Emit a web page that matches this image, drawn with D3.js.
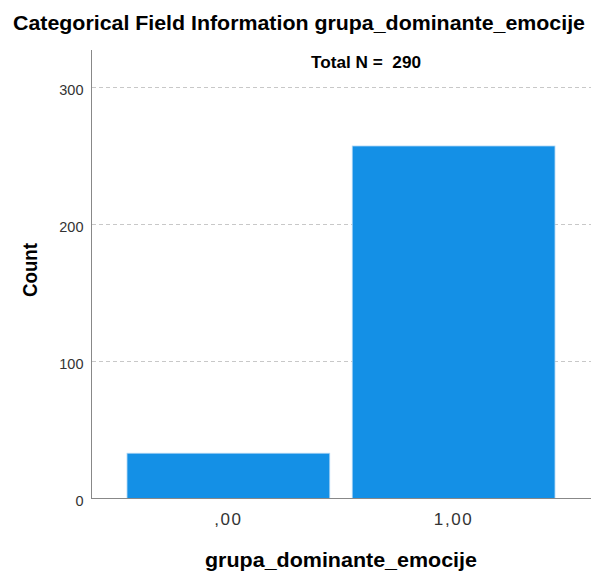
<!DOCTYPE html>
<html><head><meta charset="utf-8">
<script src="https://cdn.jsdelivr.net/npm/d3@7"></script>
<style>body{margin:0;background:#fff;}svg{display:block;font-family:"Liberation Sans",Arial,sans-serif;}</style>
</head><body>
<svg id="c" width="591" height="578"></svg>
<script>
const categories = [",00", "1,00"];
const counts = [33, 257];
const yTicks = [0, 100, 200, 300];
const totalN = 290;

const svg = d3.select("#c");
const x = d3.scaleBand().domain(categories).range([91, 591]).paddingInner(0.1).paddingOuter(0.16);
const y = d3.scaleLinear().domain([0, 327]).range([498.5, 50]);

// gridlines
svg.append("g").selectAll("line").data(yTicks.filter(d => d > 0)).join("line")
  .attr("x1", 92).attr("x2", 591)
  .attr("y1", d => Math.round(y(d)) + 0.5).attr("y2", d => Math.round(y(d)) + 0.5)
  .attr("stroke", "#c8c8c8").attr("stroke-width", 1.2).attr("stroke-dasharray", "4,3");

// bars
svg.append("g").selectAll("rect").data(categories).join("rect")
  .attr("x", d => x(d)).attr("width", x.bandwidth())
  .attr("y", (d, i) => y(counts[i])).attr("height", (d, i) => y(0) - y(counts[i]))
  .attr("fill", "#1490e6").attr("stroke", "#a9d4f4").attr("stroke-width", 0.8);

// y axis
const yAxis = d3.axisLeft(y).tickValues(yTicks).tickSize(0).tickPadding(8);
const gy = svg.append("g").attr("transform", "translate(91.5,0)").call(yAxis);
gy.select(".domain").attr("stroke", "#888").attr("d", `M0,${y(327)}V${y(0)}`);
gy.selectAll("text").attr("font-size", 14.5).attr("fill", "#333").attr("dy", "0.5em")
  .attr("font-family", "Liberation Sans, Arial, sans-serif");

// x axis
const xAxis = d3.axisBottom(x).tickSize(0).tickPadding(14);
const gx = svg.append("g").attr("transform", `translate(0,${y(0)})`).call(xAxis);
gx.select(".domain").attr("stroke", "#888").attr("d", "M91,0H591");
gx.selectAll("text").attr("font-size", 17).attr("fill", "#333").attr("letter-spacing", 1.6)
  .attr("dy", "0.75em").attr("font-family", "Liberation Sans, Arial, sans-serif");

// titles
svg.append("text").attr("x", 299).attr("y", 30).attr("text-anchor", "middle")
  .attr("font-size", 19.5).attr("font-weight", "bold").attr("fill", "#000")
  .attr("textLength", 572).attr("lengthAdjust", "spacingAndGlyphs")
  .text("Categorical Field Information grupa_dominante_emocije");
svg.append("text").attr("x", 366).attr("y", 67.5).attr("text-anchor", "middle")
  .attr("font-size", 17).attr("font-weight", "bold").attr("fill", "#000")
  .attr("textLength", 110).attr("lengthAdjust", "spacingAndGlyphs")
  .style("white-space", "pre")
  .text("Total N =  " + totalN);
svg.append("text").attr("transform", "translate(36.5,270) rotate(-90)").attr("text-anchor", "middle")
  .attr("font-size", 21).attr("font-weight", "bold").attr("fill", "#000")
  .attr("textLength", 54).attr("lengthAdjust", "spacingAndGlyphs").text("Count");
svg.append("text").attr("x", 341).attr("y", 567).attr("text-anchor", "middle")
  .attr("font-size", 21).attr("font-weight", "bold").attr("fill", "#000")
  .attr("textLength", 272).attr("lengthAdjust", "spacingAndGlyphs").text("grupa_dominante_emocije");
</script>
</body></html>
